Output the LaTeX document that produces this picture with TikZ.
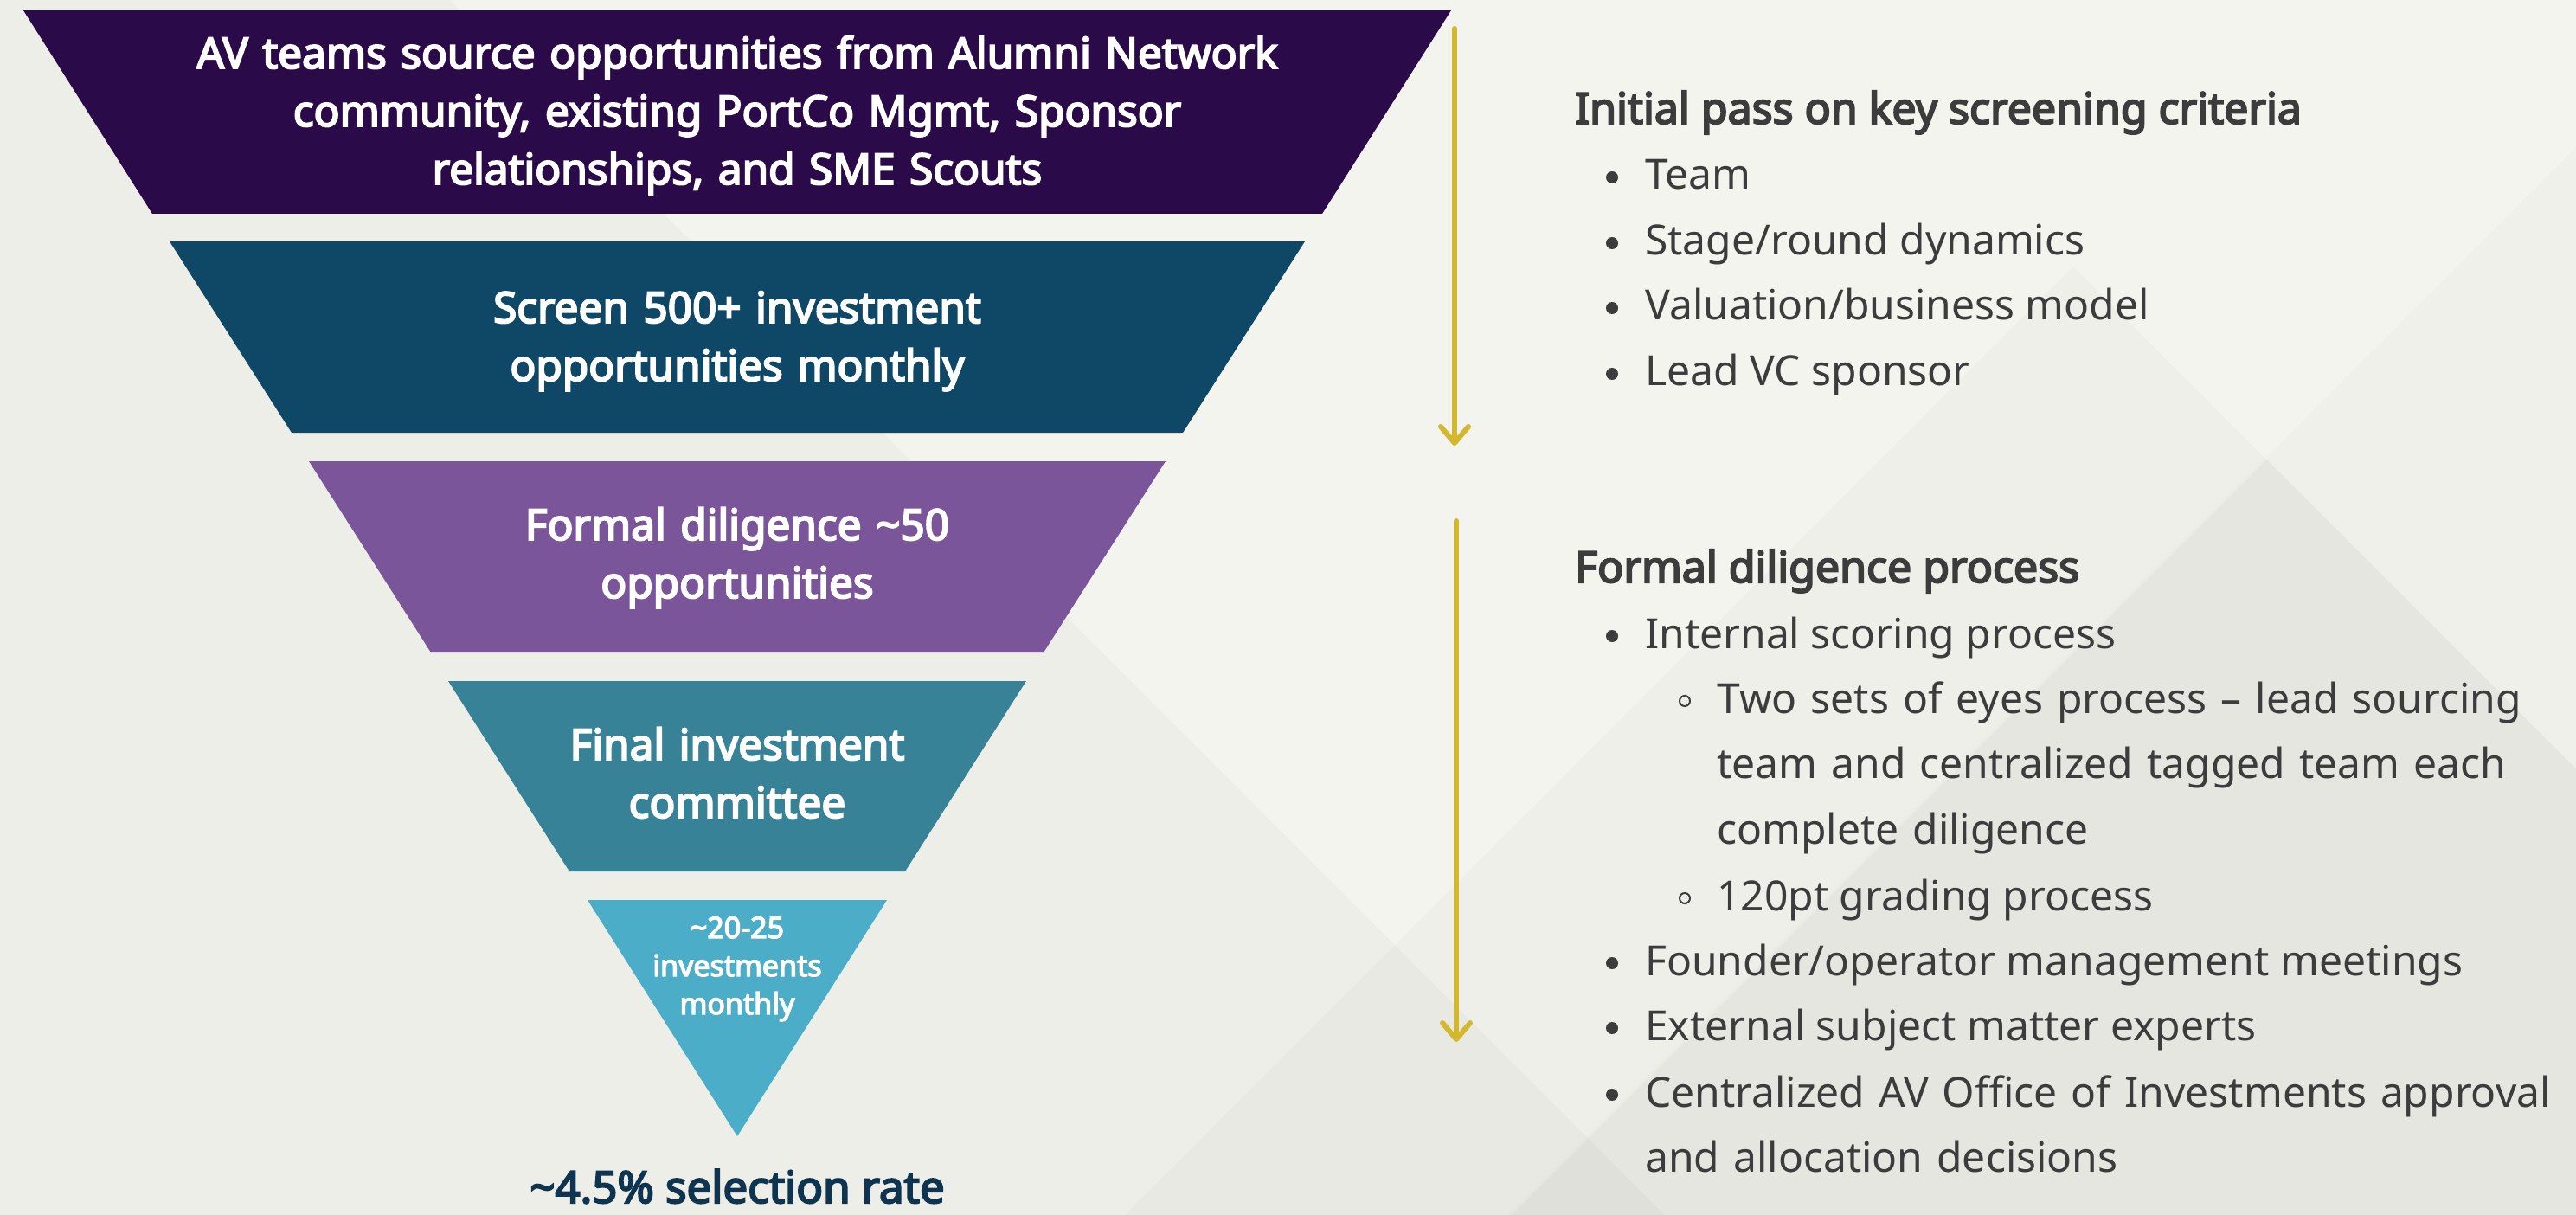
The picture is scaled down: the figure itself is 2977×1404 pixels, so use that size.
\documentclass[tikz,border=0pt]{standalone}
\usepackage{fontspec}
\setmainfont{Noto Sans}[AutoFakeBold=4]
\usetikzlibrary{arrows.meta,positioning}

\definecolor{bgbase}{HTML}{F4F4EF}
\definecolor{layerA}{HTML}{2A0A48}
\definecolor{layerB}{HTML}{0F4766}
\definecolor{layerC}{HTML}{7B5599}
\definecolor{layerD}{HTML}{378296}
\definecolor{layerE}{HTML}{4BADC7}
\definecolor{ratenavy}{HTML}{0F3450}
\definecolor{textgrey}{HTML}{3C3C3C}
\definecolor{arrowgold}{HTML}{D3B82E}

\tikzset{
  layertext/.style={text=white, font=\bfseries\fontsize{49.5}{67}\selectfont,
    align=center, text width=1400pt, anchor=base, inner sep=0pt},
  itemtext/.style={anchor=base west, inner sep=0pt, text=textgrey,
    font=\fontsize{48}{75.7}\selectfont},
  headtext/.style={itemtext, font=\bfseries\fontsize{50}{75.7}\selectfont},
  dotmark/.style={circle, fill=textgrey, inner sep=0pt, minimum size=14pt},
  ringmark/.style={circle, draw=textgrey, line width=2pt, inner sep=0pt, minimum size=12pt},
  flowarrow/.style={draw=arrowgold, line width=6pt, line cap=round,
    -{Straight Barb[length=19pt,width=32pt,round]}}
}

\begin{document}
\begin{tikzpicture}[x=1pt, y=-1pt]
  % background
  \useasboundingbox (0,0) rectangle (2977,1404);
  \fill[bgbase] (0,0) rectangle (2977,1404);
  \begin{scope}
    \clip (0,0) rectangle (2977,1404);
    \fill[black, opacity=0.022] (0,0) -- (520,0) -- (1924,1404) -- (0,1404) -- cycle;
    \fill[black, opacity=0.018] (2396,308) -- (3492,1404) -- (1300,1404) -- cycle;
    \fill[black, opacity=0.015] (2977,170) -- (1743,1404) -- (2977,1404) -- cycle;
    \fill[black, opacity=0.02] (2620,531) -- (3493,1404) -- (1747,1404) -- cycle;
  \end{scope}

  % funnel
  \fill[layerA] (27,12) -- (1677,12) -- (1528,247) -- (176,247) -- cycle;
  \fill[layerB] (196,279) -- (1508,279) -- (1367,500) -- (337,500) -- cycle;
  \fill[layerC] (357,533) -- (1347,533) -- (1206,754) -- (498,754) -- cycle;
  \fill[layerD] (518,787) -- (1186,787) -- (1046,1007) -- (658,1007) -- cycle;
  \fill[layerE] (679,1040) -- (1025,1040) -- (852,1313) -- cycle;

  \node[layertext] (source) at (852,79)
    {AV teams source opportunities from Alumni Network\\community, existing PortCo Mgmt, Sponsor\\relationships, and SME Scouts};
  \node[layertext] (screen) at (852,373) {Screen 500+ investment\\opportunities monthly};
  \node[layertext] (formal) at (852,624) {Formal diligence \textasciitilde50\\opportunities};
  \node[layertext] (final) at (852,878) {Final investment\\committee};
  \node[layertext, font=\bfseries\fontsize{34}{44}\selectfont] (invest) at (852,1084)
    {\textasciitilde20-25\\investments\\monthly};
  \node[anchor=base, inner sep=0pt, text=ratenavy, font=\bfseries\fontsize{51}{60}\selectfont]
    (rate) at (852,1390) {\textasciitilde4.5\% selection rate};

  % arrows
  \coordinate (arrAtop) at (1681,33);
  \coordinate (arrAend) at (1681,515);
  \coordinate (arrBtop) at (1683,602);
  \coordinate (arrBend) at (1683,1204);
  \draw[flowarrow] (arrAtop) -- (arrAend);
  \draw[flowarrow] (arrBtop) -- (arrBend);

  % screening criteria
  \node[headtext] (critHead) at (1820,143) {Initial pass on key screening criteria};
  \node[dotmark] (critDotA) at (1863,205) {};
  \node[itemtext] (critA) at (1901,219) {Team};
  \node[dotmark] (critDotB) at (1863,281) {};
  \node[itemtext] (critB) at (1901,295) {Stage/round dynamics};
  \node[dotmark] (critDotC) at (1863,356) {};
  \node[itemtext] (critC) at (1901,370) {Valuation/business model};
  \node[dotmark] (critDotD) at (1863,432) {};
  \node[itemtext] (critD) at (1901,446) {Lead VC sponsor};

  % diligence process
  \node[headtext] (dilHead) at (1820,673) {Formal diligence process};
  \node[dotmark] (dilDotA) at (1863,735) {};
  \node[itemtext] (dilA) at (1901,749) {Internal scoring process};
  \node[ringmark] (subRingA) at (1947,810) {};
  \node[itemtext, text width=1000pt, align=left] (subA) at (1984,824)
    {Two sets of eyes process – lead sourcing\\team and centralized tagged team each\\complete diligence};
  \node[ringmark] (subRingB) at (1947,1038) {};
  \node[itemtext] (subB) at (1984,1052) {120pt grading process};
  \node[dotmark] (dilDotB) at (1863,1113) {};
  \node[itemtext] (dilB) at (1901,1127) {Founder/operator management meetings};
  \node[dotmark] (dilDotC) at (1863,1188) {};
  \node[itemtext] (dilC) at (1901,1202) {External subject matter experts};
  \node[dotmark] (dilDotD) at (1863,1265) {};
  \node[itemtext, text width=1070pt, align=left] (dilD) at (1901,1279)
    {Centralized AV Office of Investments approval\\and allocation decisions};
\end{tikzpicture}
\end{document}
